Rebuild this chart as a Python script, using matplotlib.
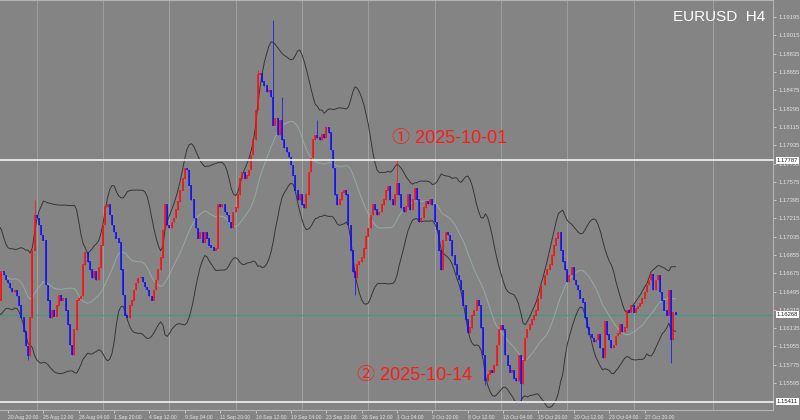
import numpy as np
import pandas as pd
import matplotlib
matplotlib.use("Agg")
import matplotlib.pyplot as plt

# EURUSD H4 closes, 20 Aug -> 30 Oct 2025
closes = [
    1.1641, 1.1669, 1.1666, 1.1661, 1.1658, 1.1653, 1.1649, 1.1651, 1.1645, 1.1636,
    1.1624, 1.1610, 1.1596, 1.1586, 1.1624, 1.1690, 1.1725, 1.1722, 1.1715, 1.1705,
    1.1700, 1.1656, 1.1641, 1.1624, 1.1631, 1.1625, 1.1636, 1.1646, 1.1641, 1.1643,
    1.1631, 1.1617, 1.1597, 1.1587, 1.1612, 1.1641, 1.1643, 1.1645, 1.1676, 1.1688,
    1.1679, 1.1671, 1.1663, 1.1669, 1.1661, 1.1673, 1.1695, 1.1715, 1.1733, 1.1735,
    1.1725, 1.1715, 1.1708, 1.1702, 1.1698, 1.1671, 1.1646, 1.1626, 1.1624, 1.1636,
    1.1641, 1.1651, 1.1658, 1.1663, 1.1664, 1.1659, 1.1654, 1.1651, 1.1645, 1.1641,
    1.1651, 1.1661, 1.1671, 1.1683, 1.1710, 1.1735, 1.1715, 1.1712, 1.1718, 1.1722,
    1.1730, 1.1738, 1.1749, 1.1761, 1.1771, 1.1769, 1.1754, 1.1740, 1.1722, 1.1712,
    1.1702, 1.1708, 1.1698, 1.1708, 1.1702, 1.1695, 1.1693, 1.1690, 1.1692, 1.1735,
    1.1733, 1.1735, 1.1728, 1.1725, 1.1718, 1.1712, 1.1728, 1.1732, 1.1745, 1.1761,
    1.1767, 1.1761, 1.1764, 1.1769, 1.1784, 1.1799, 1.1828, 1.1863, 1.1864, 1.1856,
    1.1852, 1.1846, 1.1848, 1.1841, 1.1813, 1.1820, 1.1804, 1.1818, 1.1799, 1.1791,
    1.1787, 1.1782, 1.1774, 1.1764, 1.1749, 1.1740, 1.1745, 1.1735, 1.1732, 1.1745,
    1.1767, 1.1781, 1.1799, 1.1803, 1.1801, 1.1799, 1.1804, 1.1801, 1.1811, 1.1806,
    1.1789, 1.1771, 1.1745, 1.1735, 1.1740, 1.1747, 1.1749, 1.1745, 1.1715, 1.1690,
    1.1669, 1.1663, 1.1676, 1.1679, 1.1683, 1.1692, 1.1704, 1.1712, 1.1725, 1.1735,
    1.1730, 1.1725, 1.1728, 1.1735, 1.1740, 1.1749, 1.1753, 1.1740, 1.1735, 1.1745,
    1.1756, 1.1745, 1.1732, 1.1728, 1.1733, 1.1745, 1.1730, 1.1740, 1.1751, 1.1740,
    1.1718, 1.1722, 1.1732, 1.1738, 1.1736, 1.1740, 1.1735, 1.1718, 1.1710, 1.1690,
    1.1671, 1.1700, 1.1708, 1.1705, 1.1700, 1.1685, 1.1676, 1.1666, 1.1661, 1.1651,
    1.1636, 1.1622, 1.1609, 1.1614, 1.1626, 1.1631, 1.1641, 1.1636, 1.1614, 1.1587,
    1.1562, 1.1568, 1.1572, 1.1570, 1.1577, 1.1597, 1.1612, 1.1616, 1.1612, 1.1587,
    1.1577, 1.1570, 1.1572, 1.1564, 1.1562, 1.1587, 1.1559, 1.1582, 1.1604, 1.1612,
    1.1617, 1.1622, 1.1626, 1.1631, 1.1643, 1.1656, 1.1656, 1.1666, 1.1671, 1.1676,
    1.1685, 1.1695, 1.1702, 1.1708, 1.1690, 1.1679, 1.1671, 1.1659, 1.1666, 1.1673,
    1.1661, 1.1656, 1.1651, 1.1643, 1.1639, 1.1624, 1.1614, 1.1607, 1.1604, 1.1600,
    1.1602, 1.1607, 1.1594, 1.1584, 1.1620, 1.1607, 1.1602, 1.1594, 1.1597, 1.1606,
    1.1608, 1.1617, 1.1610, 1.1614, 1.1631, 1.1629, 1.1636, 1.1629, 1.1633, 1.1635,
    1.1638, 1.1643, 1.1649, 1.1656, 1.1661, 1.1667, 1.1651, 1.1661, 1.1666, 1.1649,
    1.1641, 1.1631, 1.1626, 1.1651, 1.1602, 1.1629, 1.1627,
]
first_open = 1.1652

# closes before the left edge, only used to warm up the bands
warmup_closes = [1.1700, 1.1712, 1.1705, 1.1690, 1.1672, 1.1655, 1.1640, 1.1648, 1.1660, 1.1675,
                 1.1688, 1.1695, 1.1685, 1.1670, 1.1662, 1.1650, 1.1645, 1.1652, 1.1665]

# visible wicks (bar index -> price)
wick_highs = {16: 1.1740, 117: 1.1868, 124: 1.1917, 128: 1.1841, 144: 1.1818, 180: 1.1779}
wick_lows = {13: 1.1582, 161: 1.1646, 220: 1.1558, 236: 1.1541, 304: 1.1579}

date_labels = ['18 Aug 04:00', '20 Aug 20:00', '25 Aug 12:00', '28 Aug 04:00', '1 Sep 20:00',
               '4 Sep 12:00', '9 Sep 04:00', '11 Sep 20:00', '16 Sep 12:00', '19 Sep 04:00',
               '23 Sep 20:00', '26 Sep 12:00', '1 Oct 04:00', '3 Oct 20:00', '8 Oct 12:00',
               '13 Oct 04:00', '15 Oct 20:00', '20 Oct 12:00', '23 Oct 04:00', '27 Oct 20:00']

line_high = 1.17787   # 2025-10-01 high
line_low = 1.15411    # 2025-10-14 low
bid = 1.16268

BG = '#848484'
SCALE_FONT = ['Liberation Sans', 'DejaVu Sans']
n = len(closes)
x = np.arange(n)
c = np.array(closes)
o = np.array([first_open] + closes[:-1])
hi = np.maximum(o, c)
lo = np.minimum(o, c)
for k, v in wick_highs.items():
    hi[k] = v
for k, v in wick_lows.items():
    lo[k] = v

s = pd.Series(warmup_closes + closes)
mid = s.rolling(20).mean().values[-n:]
sd = s.rolling(20).std(ddof=0).values[-n:]
upper = mid + 2 * sd
lower = mid - 2 * sd

fig = plt.figure(figsize=(8, 4.2), dpi=100, facecolor=BG)
ax = fig.add_axes([0, 10 / 420, 773 / 800, 410 / 420])
ax.set_facecolor(BG)

# weekly grid (Monday 00:00)
for gx in list(range(17, n, 30)) + [323]:
    ax.axvline(gx, color='#a0a0a0', lw=0.7, zorder=0)

ax.axhline(bid, color='#3c9c80', lw=0.8, zorder=1)

ax.plot(x, upper, color='#363636', lw=0.7, zorder=2)
ax.plot(x, lower, color='#363636', lw=0.7, zorder=2)
ax.plot(x, mid, color='#9cbcb8', lw=0.8, alpha=0.6, zorder=2)

up = c >= o
cols = np.where(up, '#ff0c0c', '#0c0cff')
ax.vlines(x, lo, hi, colors=cols, lw=0.5, zorder=3)
ax.vlines(x, np.minimum(o, c) - 0.00003, np.maximum(o, c) + 0.00003, colors=cols, lw=1.1, zorder=4)

ax.axhline(line_high, color='#f4f4f4', lw=1.2, zorder=5, clip_on=False)
ax.axhline(line_low, color='#f4f4f4', lw=1.2, zorder=5, clip_on=False)

ticks = [1.19375 - 0.0018 * k for k in range(22)]
ax.yaxis.tick_right()
ax.set_yticks(ticks)
ax.set_yticklabels(['%.5f' % t for t in ticks], family=SCALE_FONT)
ax.tick_params(axis='y', direction='out', length=2, pad=2, labelsize=4.2,
               colors='#e2e2e2', width=0.5)

ax.set_xticks(np.arange(len(date_labels)) * 16 - 12)
ax.set_xticklabels(date_labels, family=SCALE_FONT)
for lab in ax.get_xticklabels():
    lab.set_ha('left')
ax.tick_params(axis='x', direction='out', length=2, pad=1.5, labelsize=3.7,
               colors='#e2e2e2', width=0.5)

# limits after the ticks, so the ticks do not widen them
ax.set_xlim(0.36, 350.1)
ax.set_ylim(1.1533, 1.19364)

ax.spines['left'].set_visible(False)
for side in ['right', 'bottom', 'top']:
    ax.spines[side].set_color('#b4b4b4')
    ax.spines[side].set_linewidth(0.8)

# price boxes on the scale
for p in [line_high, bid, line_low]:
    ax.annotate('%.5f' % p, xy=(1.0, p), xycoords=('axes fraction', 'data'),
                xytext=(2.5, 0), textcoords='offset points', va='center', ha='left',
                fontsize=4.2, color='#202020', family=SCALE_FONT,
                bbox=dict(boxstyle='square,pad=0.15', fc='white', ec='none'), zorder=6)

ax.text(0.99, 0.958, 'EURUSD  H4', transform=ax.transAxes, ha='right', va='center',
        fontsize=11, color='white', family=['Liberation Sans Narrow', 'Liberation Sans', 'DejaVu Sans'])

ann_font = ['Liberation Sans Narrow', 'Liberation Sans', 'Noto Sans CJK JP', 'DejaVu Sans']
ax.text(177.7, 1.1800, '\u2460 2025-10-01', ha='left', va='center', fontsize=13,
        color='#ff1a1a', family=ann_font, zorder=7)
ax.text(161.9, 1.1567, '\u2461 2025-10-14', ha='left', va='center', fontsize=13,
        color='#ff1a1a', family=ann_font, zorder=7)

fig.savefig('out.png', dpi=100, facecolor=BG)
